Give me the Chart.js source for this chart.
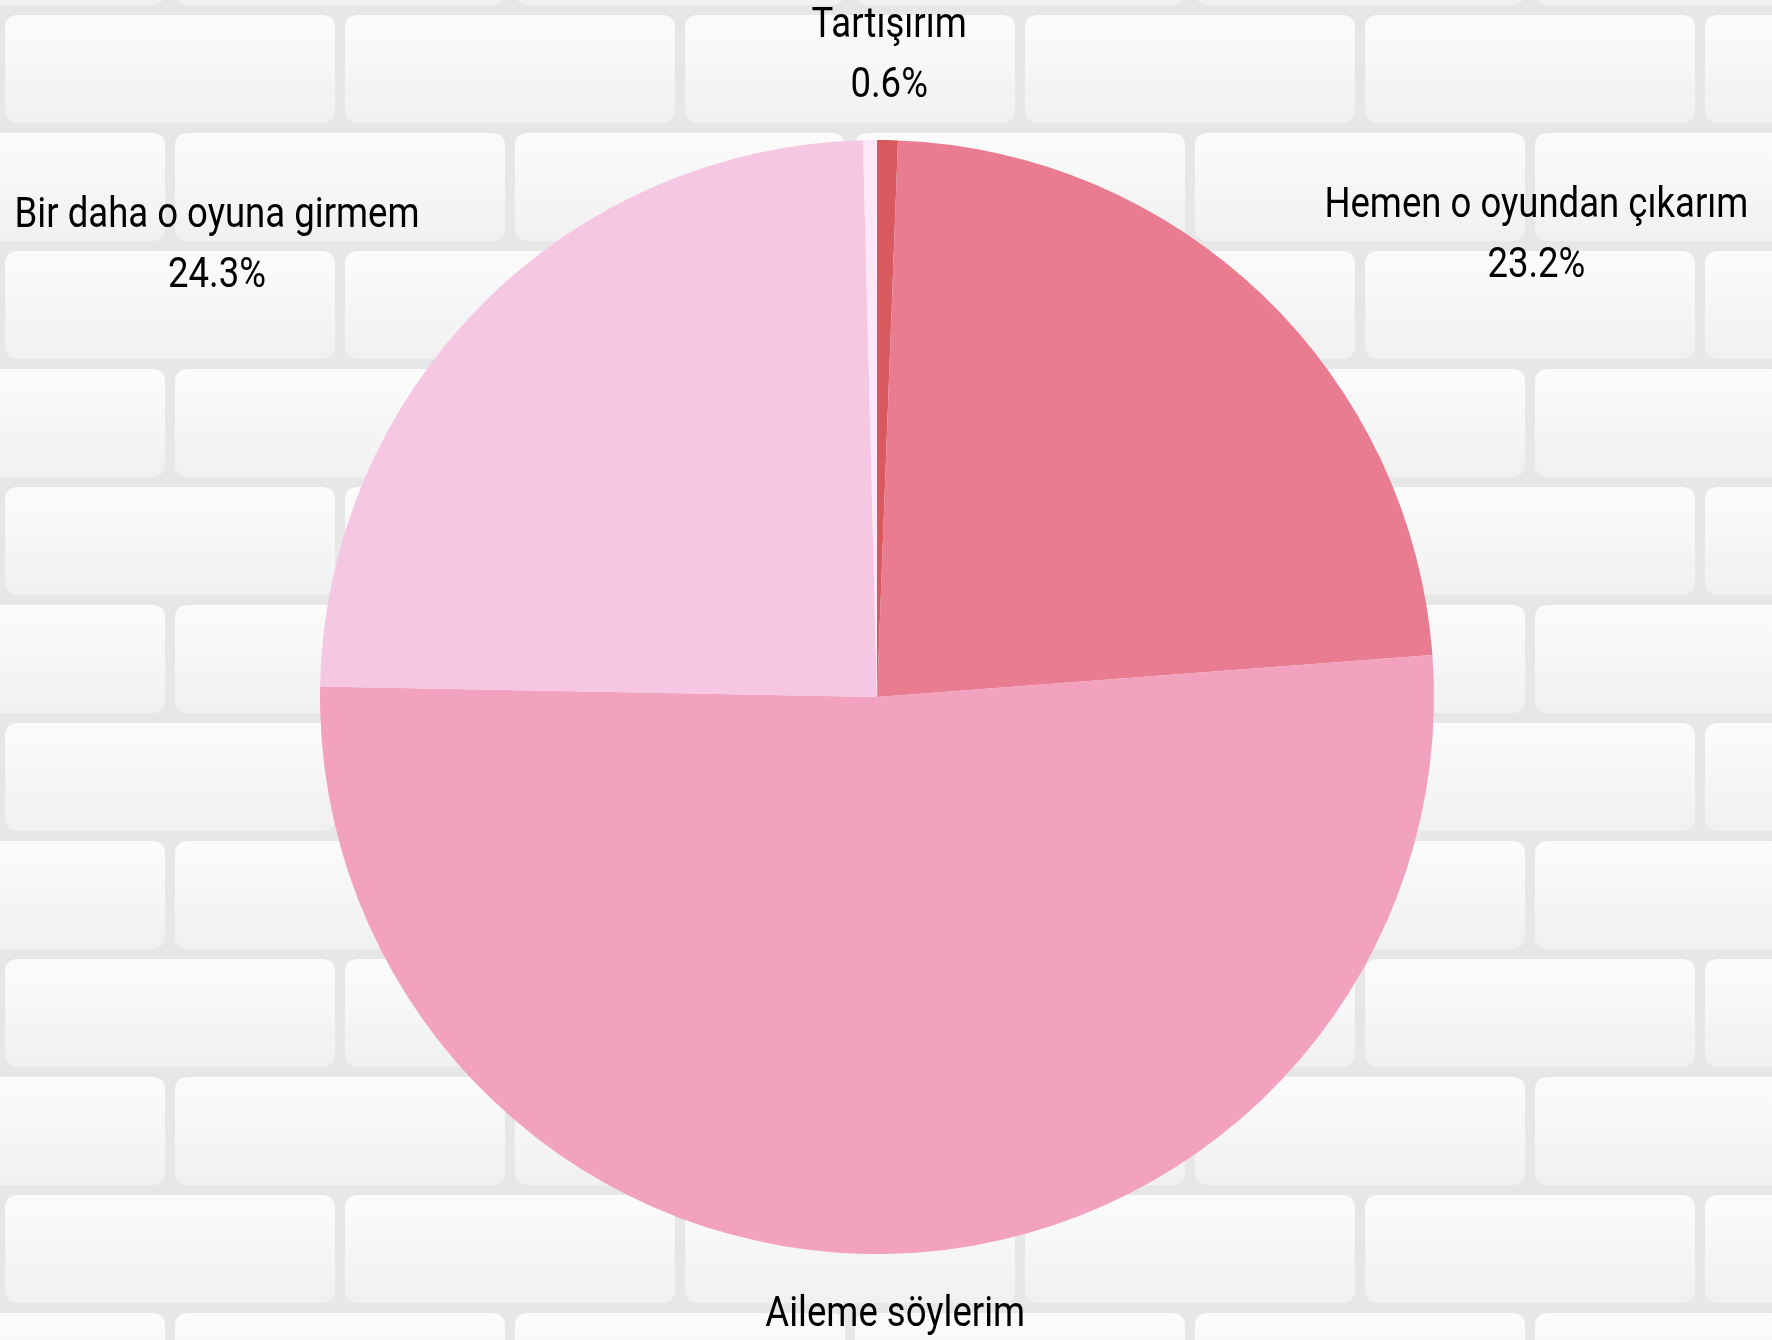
<!DOCTYPE html>
<html><head><meta charset="utf-8">
<script src="https://cdn.jsdelivr.net/npm/chart.js@4"></script>
<style>
html,body{margin:0;padding:0;width:1772px;height:1340px;overflow:hidden;background:#f4f4f4;}
#bg{position:absolute;left:0;top:0;}
#wrap{position:absolute;left:0;top:0;width:1772px;height:1340px;}
</style></head>
<body>
<canvas id="bg" width="1772" height="1340"></canvas>
<div id="wrap"><canvas id="c" width="1772" height="1340"></canvas></div>
<script>
const categories = ["Tartışırım", "Hemen o oyundan çıkarım", "Aileme söylerim", "Bir daha o oyuna girmem", "Diğer"];
const values = [0.6, 23.2, 51.5, 24.3, 0.4];
const valueLabels = ["0.6%", "23.2%", "51.5%", "24.3%", ""];
const colors = ["#d95a5e", "#e97c91", "#f2a2bf", "#f6c7e3", "#fde7f8"];

// brick wall background
(function(){
  const b = document.getElementById('bg').getContext('2d');
  b.fillStyle = '#e7e7e7'; b.fillRect(0,0,1772,1340);
  const rowH = 118, bw = 340, gap = 10;
  for (let r = -1; r < 13; r++) {
    const y = r*rowH + 10;
    const off = (r % 2 === 0) ? 0 : -bw/2;
    for (let x = off - bw; x < 1772 + bw; x += bw) {
      const g = b.createLinearGradient(0, y, 0, y + rowH - gap);
      g.addColorStop(0, '#fcfcfc'); g.addColorStop(1, '#f1f1f1');
      b.fillStyle = g;
      b.beginPath();
      if (b.roundRect) b.roundRect(x + gap/2, y + gap/2, bw - gap, rowH - gap, 12);
      else b.rect(x + gap/2, y + gap/2, bw - gap, rowH - gap);
      b.fill();
    }
  }
})();

const outerLabels = {
  id: 'outerLabels',
  afterDatasetsDraw(chart) {
    const ctx = chart.ctx;
    const meta = chart.getDatasetMeta(0);
    ctx.save();
    ctx.fillStyle = '#000';
    ctx.font = '42px Roboto';
    ctx.textBaseline = 'middle';
    const sx = 0.87;
    meta.data.forEach((arc, i) => {
      if (values[i] < 0.5) return;
      const p = arc.getProps(['x','y','startAngle','endAngle','outerRadius'], true);
      const mid = (p.startAngle + p.endAngle) / 2;
      const R = p.outerRadius + 88;
      const ax = p.x + R * Math.cos(mid);
      const ay = p.y + R * Math.sin(mid) + 4;
      const c = Math.cos(mid);
      const lines = [categories[i], valueLabels[i]];
      const wBlock = Math.max(...lines.map(s => ctx.measureText(s).width * sx));
      lines.forEach((t, k) => {
        let cx;
        if (Math.abs(c) < 0.3) cx = ax;
        else if (c > 0) cx = ax + wBlock/2;
        else cx = ax - wBlock/2;
        const y = ay + (k === 0 ? -30 : 30);
        ctx.save();
        ctx.translate(cx, y);
        ctx.scale(sx, 1);
        ctx.textAlign = 'center';
        ctx.fillText(t, 0, 0);
        ctx.restore();
      });
    });
    ctx.restore();
  }
};

new Chart(document.getElementById('c'), {
  type: 'pie',
  data: {
    labels: categories,
    datasets: [{ data: values, backgroundColor: colors, borderWidth: 0 }]
  },
  options: {
    responsive: false,
    animation: false,
    layout: { padding: { top: 140, bottom: 86, left: 0, right: 18 } },
    plugins: { legend: { display: false }, tooltip: { enabled: false } }
  },
  plugins: [outerLabels]
});
</script>
</body></html>
